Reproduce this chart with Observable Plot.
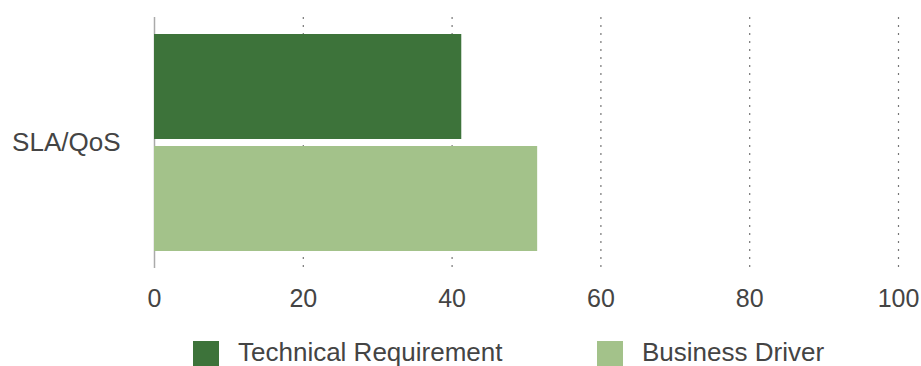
<!DOCTYPE html>
<html>
<head>
<meta charset="utf-8">
<script src="https://cdn.jsdelivr.net/npm/d3@7"></script>
<script src="https://cdn.jsdelivr.net/npm/@observablehq/plot@0.6"></script>
<style>
  html, body { margin: 0; padding: 0; background: #fff; }
  body { width: 921px; height: 366px; overflow: hidden; font-family: "Liberation Sans", Arial, Helvetica, sans-serif; }
  #legend { position: relative; height: 46px; color: #444; font-size: 26px; }
  #legend .item { position: absolute; top: 21px; display: flex; align-items: center; height: 26px; white-space: nowrap; }
  #legend .swatch { width: 26px; height: 26px; margin-right: 19px; flex: none; }
  #legend .text { position: relative; top: -2px; }
</style>
</head>
<body>
<div id="chart"></div>
<div id="legend"></div>
<script>
// Survey category and the two response series
const categories = ["SLA/QoS"];
const series = ["Technical Requirement", "Business Driver"];
const values = [41.3, 51.5];
const xTicks = [0, 20, 40, 60, 80, 100];
const seriesColors = ["#3d733a", "#a3c28a"];

const rows = series.map((s, i) => ({category: categories[0], series: s, value: values[i]}));

const chart = Plot.plot({
  width: 921,
  height: 320,
  marginLeft: 154,
  marginRight: 23,
  marginTop: 17,
  marginBottom: 52,
  style: {fontFamily: "Liberation Sans, Arial, sans-serif", fontSize: "25px", color: "#444"},
  x: {domain: [0, 100]},
  fy: {domain: categories, padding: 0},
  y: {domain: series, paddingInner: 0.065, paddingOuter: 0.15, axis: null},
  color: {domain: series, range: seriesColors},
  marks: [
    Plot.gridX(xTicks.filter(d => d > 0), {stroke: "#777", strokeOpacity: 1, strokeWidth: 1.2, strokeDasharray: "2,6"}),
    Plot.ruleX([0], {stroke: "#aaa", strokeWidth: 1.5}),
    Plot.barX(rows, {x: "value", y: "series", fy: "category", fill: "series"}),
    Plot.axisX({ticks: xTicks, tickSize: 0, tickPadding: 21, fontSize: 25, fill: "#444", label: null}),
    Plot.axisFy({anchor: "left", tickSize: 0, tickPadding: 34, fontSize: 26, fill: "#444", label: null})
  ]
});
document.getElementById("chart").appendChild(chart);

// Legend below the plot
const legendLeft = [193, 597];
const legend = document.getElementById("legend");
series.forEach((s, i) => {
  const item = document.createElement("div");
  item.className = "item";
  item.style.left = legendLeft[i] + "px";
  const sw = document.createElement("span");
  sw.className = "swatch";
  sw.style.background = seriesColors[i];
  const label = document.createElement("span");
  label.className = "text";
  label.textContent = s;
  item.appendChild(sw);
  item.appendChild(label);
  legend.appendChild(item);
});
</script>
</body>
</html>
